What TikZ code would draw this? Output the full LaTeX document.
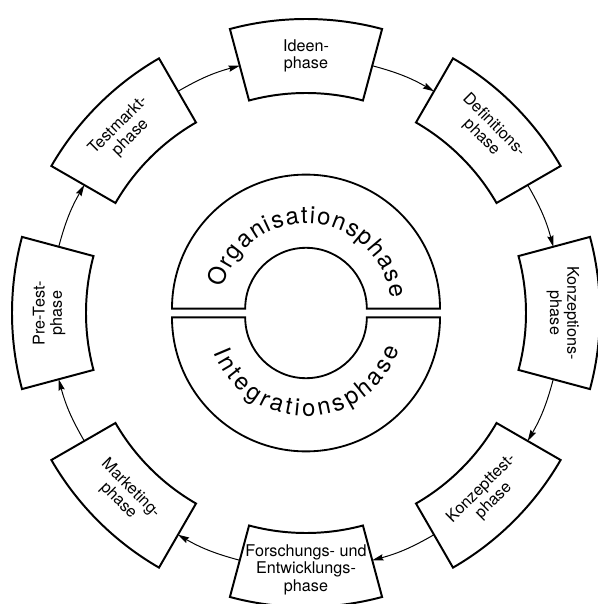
\documentclass[tikz,border=0pt]{standalone}
\usepackage{fontspec}
\setmainfont{TeX Gyre Heros}
\usepackage{tikz}
\usetikzlibrary{arrows.meta,decorations.text}

\begin{document}
\begin{tikzpicture}[
    phasebox/.style={draw, line width=1.4pt, fill=white},
    phaselabel/.style={align=center, inner sep=1pt, font=\fontsize{11.5}{12.3}\selectfont},
    arrow/.style={-{Stealth[length=8pt,width=4.5pt,inset=1pt]}, line width=0.7pt},
    ring/.style={draw, line width=1.3pt},
    ringtext/.style={decorate, decoration={text along path, text align=fit to path}}
]

\useasboundingbox (-7.65,-7.275) rectangle (7.275,7.825);

% Phase boxes around the circle
\foreach \ang/\rot/\name/\txt in {
    90/0/ideen/{Ideen-\\phase},
    45/-45/defin/{Definitions-\\phase},
    0/-90/konzept/{Konzeptions-\\phase},
    -45/45/test/{Konzepttest-\\phase},
    -90/0/fue/{Forschungs- und\\Entwicklungs-\\phase},
    -135/-45/market/{Marketing-\\phase},
    180/90/pretest/{Pre-Test-\\phase},
    135/45/testmarkt/{Testmarkt-\\phase}} {
    \draw[phasebox] (\ang+15:5.5) arc[start angle=\ang+15, end angle=\ang-15, radius=5.5]
        -- (\ang-15:7.35) arc[start angle=\ang-15, end angle=\ang+15, radius=7.35] -- cycle;
    \node[phaselabel, rotate=\rot] (\name) at (\ang:6.42) {\txt};
    \coordinate (\name-in) at (\ang+15:6.4);
    \coordinate (\name-out) at (\ang-15:6.4);
}

% Arrows (clockwise)
\draw[arrow] (ideen-out) to[bend left=7.5] (defin-in);
\draw[arrow] (defin-out) to[bend left=7.5] (konzept-in);
\draw[arrow] (konzept-out) to[bend left=7.5] (test-in);
\draw[arrow] (test-out) to[bend left=7.5] (fue-in);
\draw[arrow] (fue-out) to[bend left=7.5] (market-in);
\draw[arrow] (market-out) to[bend left=7.5] (pretest-in);
\draw[arrow] (pretest-out) to[bend left=7.5] (testmarkt-in);
\draw[arrow] (testmarkt-out) to[bend left=7.5] (ideen-in);

% Inner ring, two halves
\draw[ring] (-3.35,0.11) arc[start angle=180, end angle=0, radius=3.35]
    -- (1.52,0.11) arc[start angle=0, end angle=180, radius=1.52] -- cycle;
\draw[ring] (-3.35,-0.11) arc[start angle=180, end angle=360, radius=3.35]
    -- (1.52,-0.11) arc[start angle=360, end angle=180, radius=1.52] -- cycle;

% Ring labels
\path[ringtext, decoration={text={|\fontsize{17}{17}\selectfont|Organisationsphase}}]
    ([shift={(0,0.11)}]166:2.13) arc[start angle=166, end angle=7, radius=2.13];
\path[ringtext, decoration={text={|\fontsize{17}{17}\selectfont|Integrationsphase}}]
    ([shift={(0,-0.11)}]201:2.47) arc[start angle=201, end angle=341, radius=2.47];

\end{tikzpicture}
\end{document}
